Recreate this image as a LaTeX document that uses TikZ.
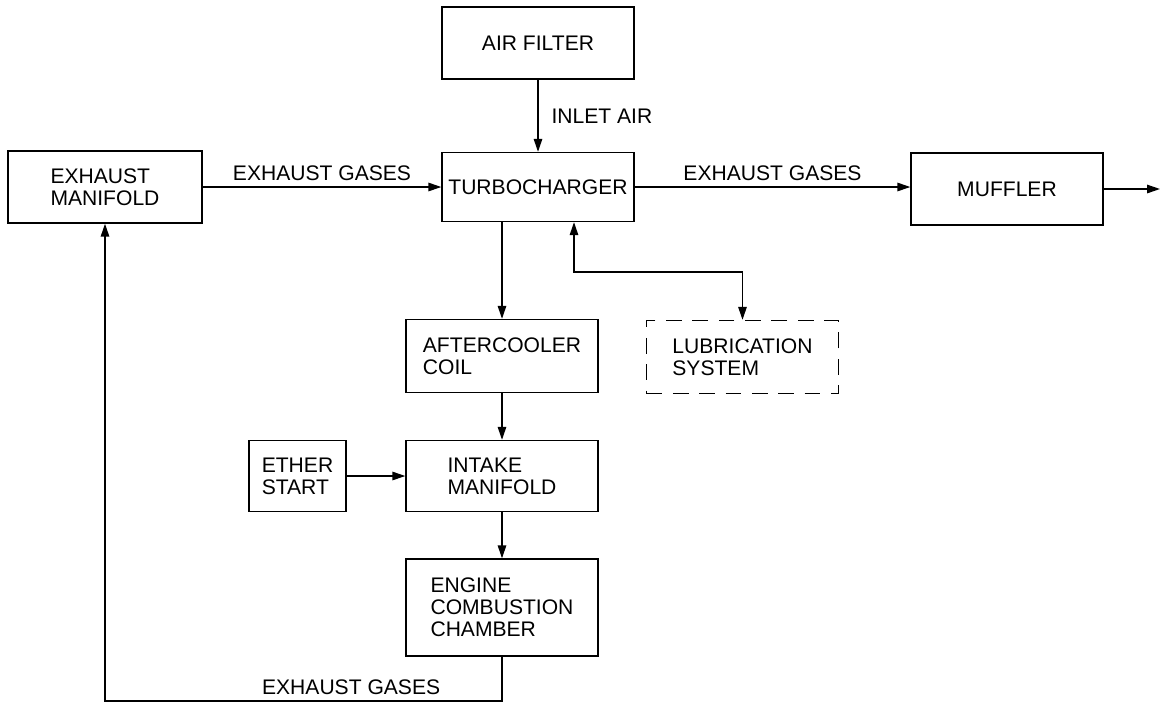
\documentclass[tikz,border=0pt]{standalone}
\usepackage{fontspec}
\setmainfont{Liberation Sans}
\usepackage{tikz}
\usetikzlibrary{arrows.meta,positioning}

\begin{document}
\begin{tikzpicture}[x=0.02cm, y=-0.02cm,
    box/.style={rectangle, draw, line width=0.8pt, align=left,
                minimum width=3.84cm, minimum height=1.44cm, inner sep=0pt,
                font=\fontsize{12}{12.6}\selectfont},
    dashbox/.style={box, dash pattern=on 9pt off 6pt},
    lbl/.style={font=\fontsize{12}{12.6}\selectfont},
    arr/.style={-{Triangle[length=2.6mm, width=1.7mm]}, line width=0.8pt},
    arrboth/.style={{Triangle[length=2.6mm, width=1.7mm]}-{Triangle[length=2.6mm, width=1.7mm]}, line width=0.8pt}
]
    \useasboundingbox (0,0) rectangle (1161,704);

    % Top row
    \node[box] (filter) at (538,43) {AIR FILTER};
    \node[box, minimum height=1.38cm] (turbo) at (538,187) {TURBOCHARGER};
    \node[box, minimum width=3.88cm] (exman) at (105,187) {EXHAUST\\MANIFOLD};
    \node[box] (muffler) at (1007,189) {MUFFLER};
    \coordinate (exit) at (1160,189);

    % Middle column
    \node[box, minimum height=1.46cm] (cooler) at (502,356) {AFTERCOOLER\\COIL};
    \node[dashbox, minimum height=1.46cm] (lube) at (742.5,357) {LUBRICATION\\SYSTEM};
    \node[box, minimum height=1.42cm] (intake) at (502,476) {INTAKE\\MANIFOLD};
    \node[box, minimum width=1.94cm, minimum height=1.42cm] (ether) at (297.5,476) {ETHER\\START};
    \node[box, minimum height=1.94cm] (chamber) at (502,607.5) {ENGINE\\COMBUSTION\\CHAMBER};

    % Flow
    \draw[arr] (filter) -- node[lbl, right=4pt] {INLET AIR} (turbo);
    \draw[arr] (exman) -- node[lbl, above] {EXHAUST GASES} (turbo);
    \draw[arr] (turbo.east) -- node[lbl, above] {EXHAUST GASES} (turbo.east -| muffler.west);
    \draw[arr] (muffler) -- (exit);
    \draw[arr] (turbo.south -| cooler.north) -- (cooler);
    \coordinate (lubebend) at (574,272);
    \draw[arrboth] (turbo.south -| lubebend) -- (lubebend) -| (lube.north);
    \draw[arr] (cooler) -- (intake);
    \draw[arr] (ether) -- (intake);
    \draw[arr] (intake) -- (chamber);

    % Exhaust return
    \coordinate (exloop) at (105,701);
    \draw[arr] (chamber.south) |- node[lbl, pos=0.69, above] {EXHAUST GASES} (exloop) -- (exman.south);
\end{tikzpicture}
\end{document}
